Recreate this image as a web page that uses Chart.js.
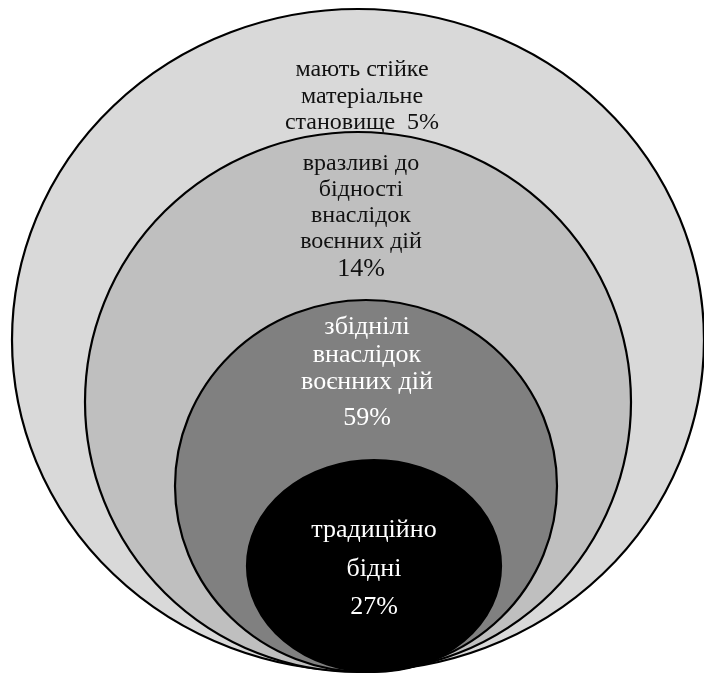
<!DOCTYPE html>
<html lang="uk">
<head>
<meta charset="UTF-8">
<title>Структура населення за рівнем бідності</title>
<script src="https://cdn.jsdelivr.net/npm/chart.js@4"></script>
<style>
    body { margin: 0; background: #fff; }
    #wrap { width: 704px; height: 674px; }
</style>
</head>
<body>
<div id="wrap"><canvas id="circles" width="704" height="674"></canvas></div>
<script>
    // дані
    const groups = [
        ['мають стійке', 'матеріальне', 'становище'],
        ['вразливі до', 'бідності', 'внаслідок', 'воєнних дій'],
        ['збіднілі', 'внаслідок', 'воєнних дій'],
        ['традиційно', 'бідні']
    ];
    const shares = [5, 14, 59, 27];

    // оформлення (у координатах осей)
    const ellipses = [
        { cx: 358, cy: 340, rx: 346, ry: 331 },
        { cx: 358, cy: 402, rx: 273, ry: 270 },
        { cx: 366, cy: 486, rx: 191, ry: 186 },
        { cx: 374, cy: 566, rx: 127, ry: 106 }
    ];
    const fills = ['#d9d9d9', '#bfbfbf', '#808080', '#000000'];
    const textColors = ['#111', '#111', '#fff', '#fff'];
    const fontSizes = [24, 24, 26, 26];
    const pctSizes = [24, 26, 26, 26];
    const pctInline = [true, false, false, false];
    const lineY = [
        [70, 97, 123],
        [164, 190, 216, 242, 269],
        [327, 355, 382, 418],
        [530, 569, 607]
    ];
    const textX = [362, 361, 367, 374];

    const serif = '"Liberation Serif", "Times New Roman", serif';

    const nestedCircles = {
        id: 'nestedCircles',
        afterDatasetsDraw(chart) {
            const { ctx, scales: { x, y } } = chart;
            ctx.save();
            ellipses.forEach((e, i) => {
                const cx = x.getPixelForValue(e.cx);
                const cy = y.getPixelForValue(e.cy);
                const rx = Math.abs(x.getPixelForValue(e.cx + e.rx) - cx);
                const ry = Math.abs(y.getPixelForValue(e.cy + e.ry) - cy);
                ctx.beginPath();
                ctx.ellipse(cx, cy, rx, ry, 0, 0, Math.PI * 2);
                ctx.fillStyle = fills[i];
                ctx.fill();
                ctx.lineWidth = 2.2;
                ctx.strokeStyle = '#000';
                ctx.stroke();
            });

            ctx.textAlign = 'center';
            ctx.textBaseline = 'middle';
            groups.forEach((lines, i) => {
                const txt = lines.map(t => ({ t, pct: false }));
                if (pctInline[i]) txt[txt.length - 1].t += '  ' + shares[i] + '%';
                else txt.push({ t: shares[i] + '%', pct: true });
                ctx.fillStyle = textColors[i];
                txt.forEach((row, k) => {
                    ctx.font = (row.pct ? pctSizes[i] : fontSizes[i]) + 'px ' + serif;
                    ctx.fillText(row.t, x.getPixelForValue(textX[i]), y.getPixelForValue(lineY[i][k]));
                });
            });
            ctx.restore();
        }
    };

    new Chart(document.getElementById('circles'), {
        type: 'bubble',
        data: {
            datasets: [{
                label: 'Частка, %',
                data: shares.map((s, i) => ({ x: ellipses[i].cx, y: ellipses[i].cy, r: 0 })),
                backgroundColor: 'rgba(0,0,0,0)',
                borderWidth: 0
            }]
        },
        options: {
            responsive: false,
            animation: false,
            layout: { padding: 0 },
            plugins: { legend: { display: false }, tooltip: { enabled: false } },
            scales: {
                x: { type: 'linear', min: 0, max: 704, display: false },
                y: { type: 'linear', min: 0, max: 674, reverse: true, display: false }
            }
        },
        plugins: [nestedCircles]
    });
</script>
</body>
</html>
